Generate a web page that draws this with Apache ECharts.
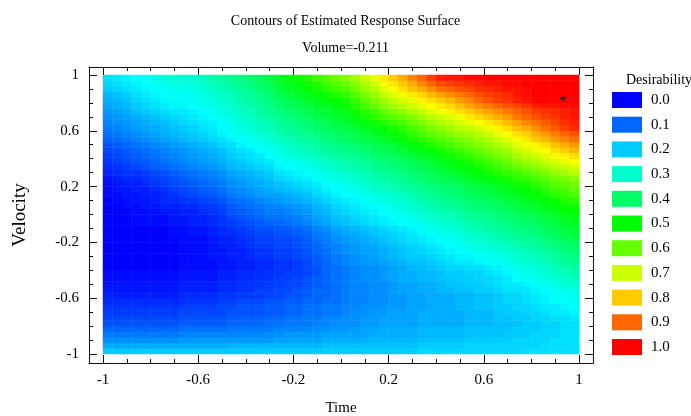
<!DOCTYPE html>
<html><head><meta charset="utf-8">
<script src="https://cdn.jsdelivr.net/npm/echarts@6/dist/echarts.min.js"></script>
<style>html,body{margin:0;padding:0;background:#fff}#c{width:691px;height:416px}</style>
</head><body><div id="c"></div>
<script>
// Cell centres of the 50 x 50 response grid
const timeCenters = [-0.98,-0.94,-0.9,-0.86,-0.82,-0.78,-0.74,-0.7,-0.66,-0.62,-0.58,-0.54,-0.5,-0.46,-0.42,-0.38,-0.34,-0.3,-0.26,-0.22,-0.18,-0.14,-0.1,-0.06,-0.02,0.02,0.06,0.1,0.14,0.18,0.22,0.26,0.3,0.34,0.38,0.42,0.46,0.5,0.54,0.58,0.62,0.66,0.7,0.74,0.78,0.82,0.86,0.9,0.94,0.98];
const velocityCenters = [-0.98,-0.94,-0.9,-0.86,-0.82,-0.78,-0.74,-0.7,-0.66,-0.62,-0.58,-0.54,-0.5,-0.46,-0.42,-0.38,-0.34,-0.3,-0.26,-0.22,-0.18,-0.14,-0.1,-0.06,-0.02,0.02,0.06,0.1,0.14,0.18,0.22,0.26,0.3,0.34,0.38,0.42,0.46,0.5,0.54,0.58,0.62,0.66,0.7,0.74,0.78,0.82,0.86,0.9,0.94,0.98];
// Desirability in percent; row 0 = Velocity -0.98 (bottom), column 0 = Time -0.98 (left)
const desirabilityRows = [
[20,20,20,20,20,20,20,20,20,20,20,20,20,20,20,20,20,20,20,20,20,20,20,20,20,20,20,20,20,20,20,20,20,21,21,21,21,21,21,21,21,21,21,21,22,22,22,22,22,22],
[17,17,17,17,17,17,17,17,17,17,17,17,17,18,18,18,18,18,18,18,18,18,18,19,19,19,19,19,19,19,19,19,19,20,20,20,20,20,21,21,21,21,21,21,21,21,22,22,22,22],
[14,14,14,14,14,14,14,14,15,15,15,15,15,15,15,15,15,15,16,16,16,16,16,17,17,17,17,17,18,18,18,18,18,19,19,19,19,19,20,20,20,20,20,21,21,21,21,22,22,22],
[12,12,12,12,12,12,12,12,13,13,13,13,13,13,13,13,13,14,14,15,15,15,15,16,16,16,16,16,17,17,17,17,17,18,18,18,18,18,19,19,19,19,20,20,20,21,21,21,22,22],
[10,10,10,10,10,10,10,10,11,11,11,11,11,12,12,12,12,12,13,13,13,13,14,14,15,15,15,16,16,17,17,17,17,18,18,18,18,18,19,19,19,19,19,20,20,20,21,21,22,22],
[8,8,8,8,8,8,8,8,9,9,9,9,9,10,10,10,10,11,11,12,12,12,13,13,14,14,14,15,15,16,16,16,16,17,17,17,17,17,18,18,18,19,19,19,20,20,21,21,22,22],
[7,7,7,7,7,7,7,7,8,8,8,8,8,9,9,9,9,10,10,11,11,12,12,13,13,14,14,15,15,16,16,16,16,17,17,17,17,17,18,18,18,19,19,20,20,21,21,22,22,23],
[6,6,6,6,6,6,6,6,7,7,7,7,7,8,8,8,8,9,9,10,10,11,11,12,12,13,14,14,15,15,16,16,16,17,17,17,17,17,18,18,18,19,20,20,21,21,22,23,23,24],
[5,5,5,5,5,5,5,5,6,6,6,6,7,7,8,8,8,9,9,10,10,11,11,12,12,13,13,14,14,15,15,15,16,16,17,17,17,18,18,19,19,20,20,21,21,22,23,23,24,25],
[4,4,4,4,4,4,4,4,5,5,5,5,6,6,7,7,7,8,8,9,9,10,10,11,11,12,13,13,14,14,15,15,16,16,17,17,17,18,18,19,19,20,21,21,22,23,24,25,25,26],
[3,3,3,3,3,3,3,3,4,4,4,4,5,5,6,6,6,7,7,8,8,9,10,10,11,12,13,13,14,14,15,15,16,16,17,17,17,18,18,19,19,20,21,21,22,23,24,25,26,27],
[2,2,2,2,2,2,2,2,3,3,3,3,4,4,5,5,6,6,7,7,8,9,10,10,11,12,13,13,14,14,15,16,16,17,17,18,18,19,19,20,20,21,22,22,23,24,25,26,27,28],
[2,2,2,2,2,2,2,2,3,3,3,3,4,4,5,5,5,6,6,7,7,8,9,10,11,12,13,13,14,14,15,16,16,17,17,18,19,19,20,20,21,22,23,23,24,25,26,28,29,30],
[1,1,1,1,1,1,1,1,2,2,2,2,3,3,4,4,5,5,6,6,7,8,9,10,11,12,13,14,14,15,16,17,17,18,18,19,19,20,20,21,21,22,23,25,26,27,28,29,30,31],
[1,1,1,1,1,1,1,1,2,2,2,2,3,3,4,4,4,5,5,6,6,7,8,10,11,12,13,14,14,15,16,17,17,18,18,19,20,20,21,21,22,23,24,26,27,28,29,31,32,33],
[0,0,0,0,0,0,0,0,1,1,1,1,2,2,3,3,4,4,5,5,6,7,8,10,11,12,13,14,14,15,16,17,18,18,19,20,21,21,22,22,23,24,25,27,28,29,30,32,33,34],
[0,0,0,0,0,0,0,0,1,1,1,1,2,2,3,3,4,4,5,5,6,7,9,10,12,13,14,15,15,16,17,18,19,19,20,21,22,23,23,24,25,26,27,28,29,30,32,33,35,36],
[0,0,0,0,0,0,0,0,1,1,1,2,2,3,3,4,5,5,6,6,7,8,9,11,12,13,14,15,16,17,18,19,20,20,21,22,23,24,24,25,26,27,28,30,31,32,33,35,36,37],
[0,0,0,0,0,0,0,0,1,1,1,2,2,3,3,4,5,5,6,6,7,8,10,11,13,14,15,16,16,17,18,19,20,21,22,23,24,25,26,27,28,29,30,31,32,33,35,36,38,39],
[0,0,0,0,0,0,0,0,1,1,1,2,3,3,4,5,6,6,7,7,8,9,10,12,13,14,15,16,17,18,19,20,21,22,23,24,25,26,27,28,29,30,31,33,34,35,36,38,39,40],
[0,0,0,0,0,0,0,0,1,1,1,2,3,3,4,5,6,6,7,7,8,9,11,12,14,15,16,17,18,19,20,21,22,23,24,25,26,27,29,30,31,32,33,34,35,36,38,39,41,42],
[0,0,0,0,0,0,0,1,1,2,2,3,4,4,5,6,7,7,8,8,9,10,12,13,15,16,17,18,19,20,21,22,23,24,25,26,27,28,30,31,32,33,34,36,37,38,40,41,43,44],
[0,0,0,0,0,0,0,1,1,2,2,3,4,5,6,7,8,8,9,9,10,11,13,14,16,17,18,19,20,21,22,23,24,26,27,28,29,30,32,33,34,35,36,37,38,39,41,42,44,45],
[0,0,0,1,1,1,1,2,2,3,3,4,5,6,7,8,9,10,10,11,12,13,15,16,18,19,20,21,22,23,24,25,26,27,28,29,30,31,33,34,35,36,37,39,40,41,43,44,46,47],
[0,0,0,1,1,1,1,2,2,3,3,4,5,7,8,9,10,11,11,12,13,14,16,17,19,20,21,22,23,24,25,26,27,29,30,31,32,33,35,36,37,38,39,40,41,42,44,45,47,48],
[0,0,0,1,1,1,2,2,3,3,4,5,6,8,9,10,11,12,12,13,14,15,17,18,20,21,22,23,24,25,26,27,28,30,31,32,33,34,36,37,38,39,40,42,43,44,46,47,49,50],
[0,0,1,1,2,2,3,3,4,4,5,6,7,9,10,11,12,13,13,14,15,16,18,19,21,22,23,24,25,26,27,28,30,31,33,34,35,36,38,39,40,41,42,44,45,46,48,49,51,52],
[0,1,1,2,2,3,4,4,5,5,6,7,8,10,11,12,13,14,15,16,17,18,19,21,22,23,24,25,27,28,29,30,31,33,34,35,36,37,39,40,41,42,44,45,47,48,50,51,53,54],
[1,1,2,2,3,3,4,5,6,7,8,9,10,12,13,14,15,16,16,17,18,19,21,22,24,25,26,27,28,29,30,31,33,34,36,37,38,39,41,42,43,44,46,47,49,50,52,54,55,57],
[1,2,2,3,3,4,5,6,7,8,9,10,11,13,14,15,16,17,18,19,20,21,22,24,25,26,27,28,30,31,32,33,34,36,37,38,39,40,42,43,44,46,47,49,50,52,54,56,57,59],
[1,2,3,3,4,5,6,7,8,9,10,11,12,14,15,16,17,18,19,20,21,22,23,25,26,27,28,29,31,32,33,34,36,37,39,40,41,42,44,45,46,48,49,51,52,54,56,58,59,61],
[2,3,4,4,5,6,7,8,9,10,11,12,13,15,16,17,18,19,21,22,23,24,25,27,28,29,30,31,33,34,35,36,38,39,41,42,43,45,46,48,49,51,52,54,55,57,59,61,62,64],
[3,4,5,5,6,7,8,9,10,11,12,13,14,16,17,18,19,20,22,23,24,25,26,28,29,30,31,32,34,35,36,38,39,41,42,44,45,47,48,50,51,53,55,56,58,60,62,64,66,68],
[4,5,6,7,8,9,10,11,12,13,14,15,16,18,19,20,21,22,24,25,26,27,28,30,31,32,33,34,36,37,38,39,41,42,44,45,47,49,50,52,54,56,58,60,62,64,66,68,69,71],
[5,6,7,8,9,10,11,12,13,14,15,16,17,19,20,21,22,23,25,26,27,28,29,31,32,33,34,35,37,38,39,41,42,44,45,47,49,51,52,54,56,58,60,63,65,67,69,71,73,75],
[6,7,8,9,10,11,12,13,14,15,16,17,18,20,21,22,23,25,26,28,29,30,31,33,34,35,36,37,39,40,41,43,44,46,47,49,51,53,55,57,59,61,63,66,68,70,72,74,76,78],
[7,8,9,10,11,12,13,14,15,16,17,18,19,21,22,23,25,26,28,29,31,32,33,35,36,37,38,39,41,42,43,45,47,48,50,52,54,56,58,60,62,64,66,69,71,73,75,78,80,82],
[8,9,10,11,12,13,14,15,16,17,18,19,21,22,24,25,26,28,29,31,32,33,34,36,37,38,39,41,42,44,45,47,49,51,53,55,57,59,61,63,65,67,69,72,74,76,78,81,83,85],
[10,11,12,13,14,15,16,17,18,19,20,21,22,24,25,26,28,29,31,32,34,35,36,38,39,40,42,43,45,46,48,50,52,54,56,58,60,62,63,65,67,70,72,75,77,80,82,85,87,89],
[11,12,13,14,15,16,17,18,19,20,21,22,24,25,27,28,29,31,32,34,35,36,37,39,40,41,43,45,46,48,50,52,54,57,59,61,63,65,66,68,70,73,75,78,80,83,85,88,90,92],
[12,13,14,15,16,17,18,19,20,21,22,23,25,26,28,29,31,32,34,35,37,38,39,41,42,43,45,47,48,50,52,54,57,59,62,64,66,68,69,71,73,76,78,81,83,86,89,91,94,96],
[13,14,15,16,17,18,19,20,21,22,23,24,26,27,29,30,32,33,35,36,38,39,41,42,44,45,47,49,51,53,55,57,60,62,65,67,69,71,73,75,77,79,82,84,87,89,91,93,95,97],
[14,15,16,17,18,19,20,21,22,23,24,25,27,28,30,31,33,35,36,38,40,41,43,44,46,47,49,52,54,57,59,61,63,66,68,70,72,74,77,79,81,83,85,88,90,92,94,95,97,98],
[15,16,17,19,20,21,22,23,23,24,25,26,28,29,31,32,34,36,37,39,41,42,44,45,47,48,51,54,56,59,62,64,67,69,72,74,76,78,80,82,84,86,88,90,92,94,95,96,97,98],
[16,17,18,20,21,22,23,24,24,25,26,27,29,30,32,33,35,37,39,41,43,44,46,47,49,50,53,56,60,63,66,68,70,73,75,77,79,81,84,86,88,90,92,93,95,97,98,98,99,99],
[17,18,19,21,22,23,24,25,25,26,27,28,30,31,33,34,36,38,40,42,44,46,47,49,50,52,55,59,62,66,69,71,73,76,78,80,82,85,87,90,92,94,95,97,98,100,100,100,100,100],
[18,19,20,22,23,24,25,26,26,27,28,29,31,32,34,35,37,39,42,44,46,48,50,51,53,55,58,62,65,69,72,74,77,79,82,84,86,88,90,92,94,95,96,98,99,100,100,100,100,100],
[20,21,22,23,24,25,26,27,27,28,29,31,32,34,35,37,39,41,44,46,48,50,52,54,56,58,61,65,68,72,75,78,81,83,86,89,90,92,93,95,96,97,98,98,99,100,100,100,100,100],
[21,22,23,24,25,26,27,28,28,29,30,32,33,35,36,38,40,42,45,47,49,51,53,56,58,60,63,67,70,74,77,80,83,87,90,93,94,95,96,97,98,98,99,99,100,100,100,100,100,100],
[22,23,24,25,26,27,28,29,29,30,31,33,34,36,37,39,41,44,46,49,51,53,56,58,61,63,66,70,73,77,80,83,87,90,94,97,98,98,99,99,100,100,100,100,100,100,100,100,100,100]
];
const majorTicks = [-1, -0.6, -0.2, 0.2, 0.6, 1];
const minorTicks = [-1, -0.9, -0.8, -0.7, -0.6, -0.5, -0.4, -0.3, -0.2, -0.1, 0, 0.1, 0.2, 0.3, 0.4, 0.5, 0.6, 0.7, 0.8, 0.9, 1];
const legendLabels = ['0.0', '0.1', '0.2', '0.3', '0.4', '0.5', '0.6', '0.7', '0.8', '0.9', '1.0'];
const legendColors = ['#0000ff', '#0066ff', '#00ccff', '#00ffcc', '#00ff66', '#00ff00', '#66ff00', '#ccff00', '#ffcc00', '#ff6600', '#ff0000'];
const optimumPoint = [0.933, 0.833];

const FONT = '"Liberation Serif","Times New Roman",serif';
const txt = (size) => ({fontFamily: FONT, fontSize: size, fontWeight: 'normal', color: '#000'});
const xRange = [-1.0588, 1.0588];
const yRange = [-1.0646, 1.0573];

const heatData = [];
desirabilityRows.forEach((row, j) => row.forEach((v, i) => heatData.push([i, j, v])));

function frameAxis(pos, range, major, withLabel, extra) {
  return Object.assign({
    type: 'value', gridIndex: 1, position: pos, min: range[0], max: range[1],
    axisLine: {show: major, onZero: false, lineStyle: {color: '#111', width: 1}},
    axisTick: {show: true, inside: true, length: major ? 8 : 4,
      customValues: major ? majorTicks : minorTicks, lineStyle: {color: '#111', width: 1}},
    axisLabel: withLabel ? Object.assign({show: true, customValues: majorTicks, margin: 10,
      formatter: (v) => String(Math.round(v * 10) / 10)}, txt(15)) : {show: false},
    splitLine: {show: false}
  }, extra || {});
}

const chart = echarts.init(document.getElementById('c'), null, {renderer: 'canvas'});
chart.setOption({
  animation: false,
  backgroundColor: '#fff',
  title: [
    {text: 'Contours of Estimated Response Surface', left: 'center', top: 9, textStyle: txt(14)},
    {text: 'Volume=-0.211', left: 'center', top: 36, textStyle: txt(14)},
    {text: 'Desirability', left: 621, top: 68, textStyle: txt(14)}
  ],
  grid: [
    {left: 103, top: 75, width: 476, height: 279, outerBoundsMode: 'none'},
    {left: 89, top: 67, width: 504, height: 296, outerBoundsMode: 'none'}
  ],
  xAxis: [
    {type: 'category', gridIndex: 0, data: timeCenters.map(String), show: false},
    frameAxis('bottom', xRange, true, true, {name: 'Time', nameLocation: 'middle', nameGap: 38, nameTextStyle: txt(15)}),
    frameAxis('bottom', xRange, false, false),
    frameAxis('top', xRange, true, false),
    frameAxis('top', xRange, false, false)
  ],
  yAxis: [
    {type: 'category', gridIndex: 0, data: velocityCenters.map(String), show: false},
    frameAxis('left', yRange, true, true, {name: 'Velocity', nameLocation: 'middle', nameGap: 59, nameRotate: 90, nameTextStyle: txt(19)}),
    frameAxis('left', yRange, false, false),
    frameAxis('right', yRange, true, false),
    frameAxis('right', yRange, false, false)
  ],
  visualMap: {
    type: 'continuous', show: false, seriesIndex: 0, dimension: 2, min: 0, max: 100,
    inRange: {color: ['#0000ff', '#00ffff', '#00ff00', '#ffff00', '#ff0000']}
  },
  legend: {
    orient: 'vertical', left: 612, top: 92, padding: 0, itemWidth: 30, itemHeight: 16, itemGap: 8.7,
    icon: 'rect', selectedMode: false, data: legendLabels,
    textStyle: Object.assign({padding: [0, 0, 0, 4]}, txt(15))
  },
  series: [
    {type: 'heatmap', xAxisIndex: 0, yAxisIndex: 0, data: heatData, silent: true,
     emphasis: {disabled: true}, progressive: 0},
    {type: 'scatter', xAxisIndex: 1, yAxisIndex: 1, data: [optimumPoint], silent: true,
     symbol: 'path://M-1,-5H1V-1H5V1H1V5H-1V1H-5V-1H-1Z', symbolSize: 6, itemStyle: {color: '#222', opacity: 1}, z: 5}
  ].concat(legendLabels.map((l, k) => ({
    type: 'scatter', name: l, xAxisIndex: 1, yAxisIndex: 1, data: [], itemStyle: {color: legendColors[k], opacity: 1}
  })))
});
</script>
</body></html>
